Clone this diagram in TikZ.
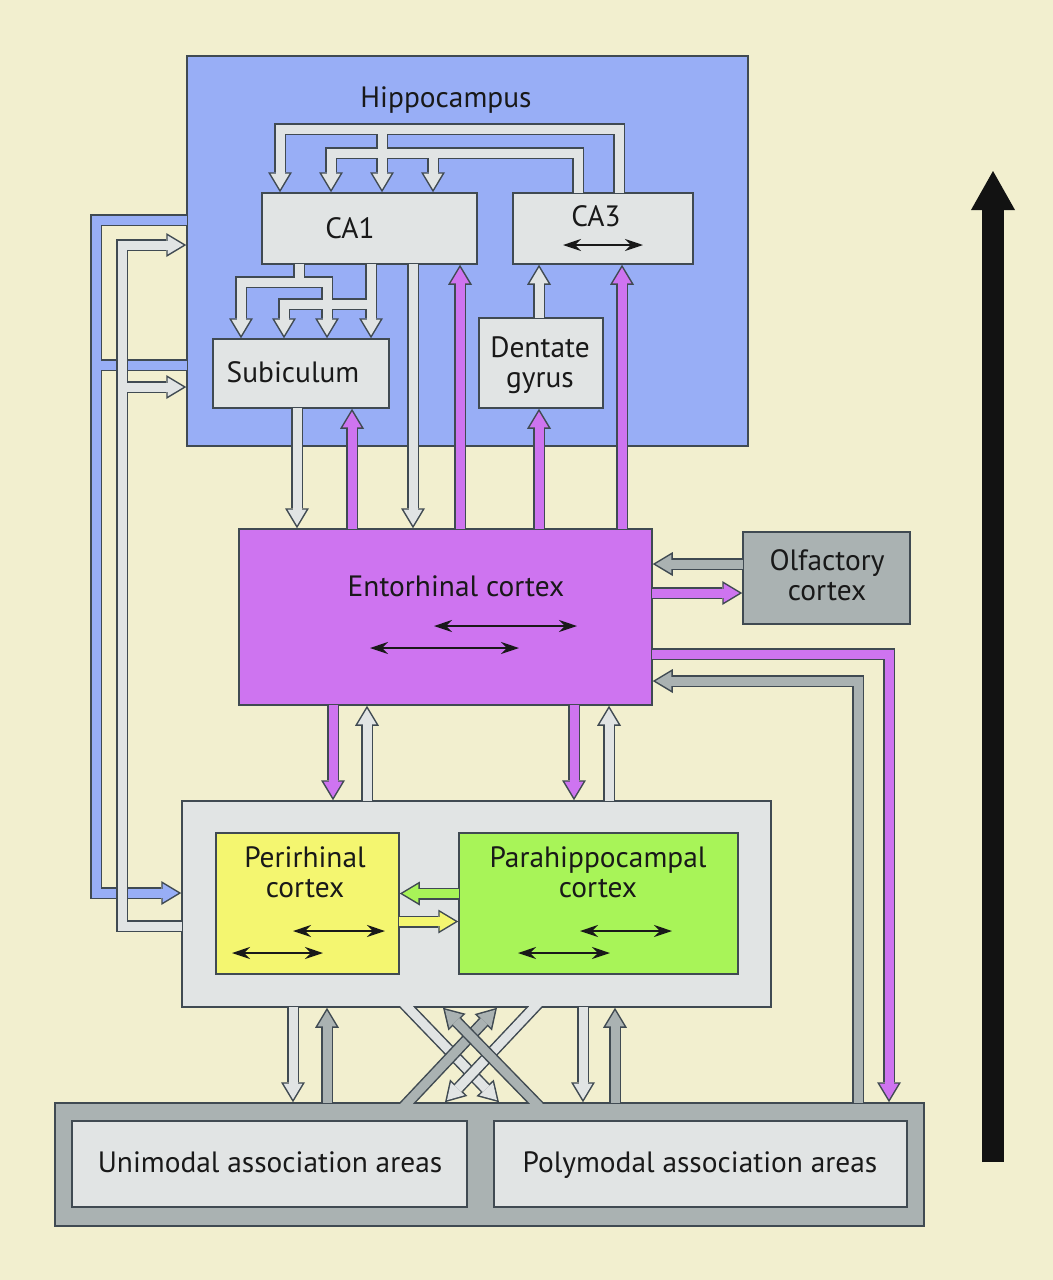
\documentclass[tikz,border=0pt]{standalone}
\usepackage{fontspec}
\setmainfont{PT Sans}
\usetikzlibrary{arrows.meta, positioning, fit}

\definecolor{bgcream}{RGB}{242,239,207}
\definecolor{edgecol}{RGB}{64,74,82}
\definecolor{lgcol}{RGB}{225,228,228}
\definecolor{hipblue}{RGB}{152,174,246}
\definecolor{magcol}{RGB}{206,116,240}
\definecolor{dgcol}{RGB}{170,178,178}
\definecolor{yelcol}{RGB}{244,246,112}
\definecolor{grncol}{RGB}{168,244,88}

% outline pass first, then the fill pass, so branches merge
\newcommand{\twolayers}[2]{%
  \tikzset{wire/.style={fat}}#2%
  \tikzset{wire/.style={fatfill,draw=#1}}#2}

\begin{document}
\begin{tikzpicture}[x=0.5pt, y=-0.5pt]
    \tikzstyle{area}=[draw=edgecol, line width=0.75pt, inner sep=0pt]
    \tikzstyle{areatext}=[font=\fontsize{14.7}{15}\selectfont, align=center, anchor=base, text=black!90]
    \tikzstyle{fat}=[draw=edgecol, line width=6pt, shorten <=-0.4pt, -{Triangle[length=10pt, width=12pt, line width=0pt]}]
    \tikzstyle{fatfill}=[line width=4.5pt, shorten <=-0.4pt, shorten >=1.46pt, -{Triangle[length=7.8pt, width=9.35pt, line width=0pt]}]
    \tikzstyle{stub}=[-, shorten >=0pt]
    \tikzstyle{both}=[{Stealth[length=9pt, width=6pt, inset=3pt]}-{Stealth[length=9pt, width=6pt, inset=3pt]}, line width=0.9pt, draw=black!90]

    \useasboundingbox (0,0) rectangle (1053,1280);
    \fill[bgcream] (0,0) rectangle (1053,1280);

    % Draw the boxes
    \node[area, fill=hipblue, fit={(187,56) (748,446)}] (hip) {};
    \node[area, fill=lgcol, fit={(262,193) (477,264)}] (ca1) {};
    \node[area, fill=lgcol, fit={(513,193) (693,264)}] (ca3) {};
    \node[area, fill=lgcol, fit={(213,339) (389,408)}] (sub) {};
    \node[area, fill=lgcol, fit={(479,318) (603,408)}] (dg) {};
    \node[area, fill=magcol, fit={(239,529) (652,705)}] (ec) {};
    \node[area, fill=dgcol, fit={(743,532) (910,624)}] (olf) {};
    \node[area, fill=lgcol, fit={(182,801) (771,1007)}] (phr) {};
    \node[area, fill=yelcol, fit={(216,833) (399,974)}] (peri) {};
    \node[area, fill=grncol, fit={(459,833) (738,974)}] (para) {};
    \node[area, fill=dgcol, fit={(55,1103) (924,1226)}] (assoc) {};
    \node[area, fill=lgcol, fit={(72,1121) (467,1207)}] (uni) {};
    \node[area, fill=lgcol, fit={(494,1121) (907,1207)}] (poly) {};

    % Hippocampal loops
    \twolayers{lgcol}{
      \draw[wire] (ca3.north -| 619,0) -- (619,129) -| (ca1.north -| 280,0);
      \draw[wire] (382,129) -- (ca1.north -| 382,0);
      \draw[wire] (ca3.north -| 578,0) -- (578,153) -| (ca1.north -| 331,0);
      \draw[wire] (433,153) -- (ca1.north -| 433,0);
      \draw[wire] (ca1.south -| 299,0) -- (299,282) -| (sub.north -| 241,0);
      \draw[wire] (299,282) -| (sub.north -| 327,0);
      \draw[wire] (ca1.south -| 371,0) -- (sub.north -| 371,0);
      \draw[wire] (371,304) -| (sub.north -| 284,0);
    }

    % Hippocampus <-> entorhinal cortex
    \twolayers{lgcol}{\draw[wire] (sub.south -| 297,0) -- (ec.north -| 297,0);}
    \twolayers{magcol}{\draw[wire] (ec.north -| 352,0) -- (sub.south -| 352,0);}
    \twolayers{lgcol}{\draw[wire] (ca1.south -| 413,0) -- (ec.north -| 413,0);}
    \twolayers{magcol}{\draw[wire] (ec.north -| 460,0) -- (ca1.south -| 460,0);}
    \twolayers{lgcol}{\draw[wire] (dg.north -| 539,0) -- (ca3.south -| 539,0);}
    \twolayers{magcol}{\draw[wire] (ec.north -| 539,0) -- (dg.south -| 539,0);}
    \twolayers{magcol}{\draw[wire] (ec.north -| 622,0) -- (ca3.south -| 622,0);}

    % Left side loops
    \twolayers{hipblue}{
      \draw[wire] (hip.west |- 0,220) -- (96,220) |- (phr.west |- 0,893);
      \draw[wire, stub] (hip.west |- 0,365) -- (96,365);
    }
    \twolayers{lgcol}{
      \draw[wire] (phr.west |- 0,926) -- (122,926) |- (hip.west |- 0,245);
      \draw[wire] (122,387) -- (hip.west |- 0,387);
    }

    % Entorhinal cortex <-> cortical areas
    \twolayers{magcol}{\draw[wire] (ec.south -| 333,0) -- (phr.north -| 333,0);}
    \twolayers{lgcol}{\draw[wire] (phr.north -| 367,0) -- (ec.south -| 367,0);}
    \twolayers{magcol}{\draw[wire] (ec.south -| 574,0) -- (phr.north -| 574,0);}
    \twolayers{lgcol}{\draw[wire] (phr.north -| 609,0) -- (ec.south -| 609,0);}
    \twolayers{dgcol}{\draw[wire] (olf.west |- 0,564) -- (ec.east |- 0,564);}
    \twolayers{magcol}{\draw[wire] (ec.east |- 0,593) -- (olf.west |- 0,593);}
    \twolayers{magcol}{\draw[wire] (ec.east |- 0,654) -| (assoc.north -| 889,0);}
    \twolayers{dgcol}{\draw[wire] (assoc.north -| 858,0) |- (ec.east |- 0,681);}
    \twolayers{grncol}{\draw[wire] (para.west |- 0,893.5) -- (peri.east |- 0,893.5);}
    \twolayers{yelcol}{\draw[wire] (peri.east |- 0,921.5) -- (para.west |- 0,921.5);}

    % Parahippocampal region <-> association areas
    \twolayers{lgcol}{\draw[wire] (phr.south -| 293,0) -- (assoc.north -| 293,0);}
    \twolayers{dgcol}{\draw[wire] (assoc.north -| 327,0) -- (phr.south -| 327,0);}
    \twolayers{lgcol}{\draw[wire] (phr.south -| 583,0) -- (assoc.north -| 583,0);}
    \twolayers{dgcol}{\draw[wire] (assoc.north -| 615,0) -- (phr.south -| 615,0);}
    \begin{scope}
      \clip (150,1006.25) rectangle (950,1103.75);
      \twolayers{lgcol}{\draw[wire, shorten <=-5pt] (phr.south -| 408,0) -- (assoc.north -| 499,0);}
      \twolayers{lgcol}{\draw[wire, shorten <=-5pt] (phr.south -| 534,0) -- (assoc.north -| 445,0);}
      \twolayers{dgcol}{\draw[wire, shorten <=-5pt] (assoc.north -| 408,0) -- (phr.south -| 497,0);}
      \twolayers{dgcol}{\draw[wire, shorten <=-5pt] (assoc.north -| 535,0) -- (phr.south -| 443,0);}
    \end{scope}

    % Recurrent connections
    \draw[both] (563,245) -- (643,245);
    \draw[both] (434,626) -- (577,626);
    \draw[both] (370,648) -- (519,648);
    \draw[both] (293,931) -- (385,931);
    \draw[both] (232,953) -- (323,953);
    \draw[both] (580,931) -- (672,931);
    \draw[both] (518,953) -- (610,953);

    % Labels (base of the last line)
    \node[areatext] (hip-t) at (446,107) {Hippocampus};
    \node[areatext] (ca1-t) at (350,238) {CA1};
    \node[areatext] (ca3-t) at (596,226) {CA3};
    \node[areatext] (sub-t) at (293,382) {Subiculum};
    \node[areatext] (dg-t) at (540,387) {Dentate\\gyrus};
    \node[areatext] (ec-t) at (456,596) {Entorhinal cortex};
    \node[areatext] (olf-t) at (827,600) {Olfactory\\cortex};
    \node[areatext] (peri-t) at (305,897) {Perirhinal\\cortex};
    \node[areatext] (para-t) at (598,897) {Parahippocampal\\cortex};
    \node[areatext] (uni-t) at (270,1172) {Unimodal association areas};
    \node[areatext] (poly-t) at (700,1172) {Polymodal association areas};

    % Hierarchy arrow
    \coordinate (low) at (993,1162);
    \coordinate (high) at (993,171);
    \draw[line width=11pt, draw=black!93, -{Triangle[length=19.5pt, width=22pt, line width=0pt]}] (low) -- (high);
\end{tikzpicture}
\end{document}
